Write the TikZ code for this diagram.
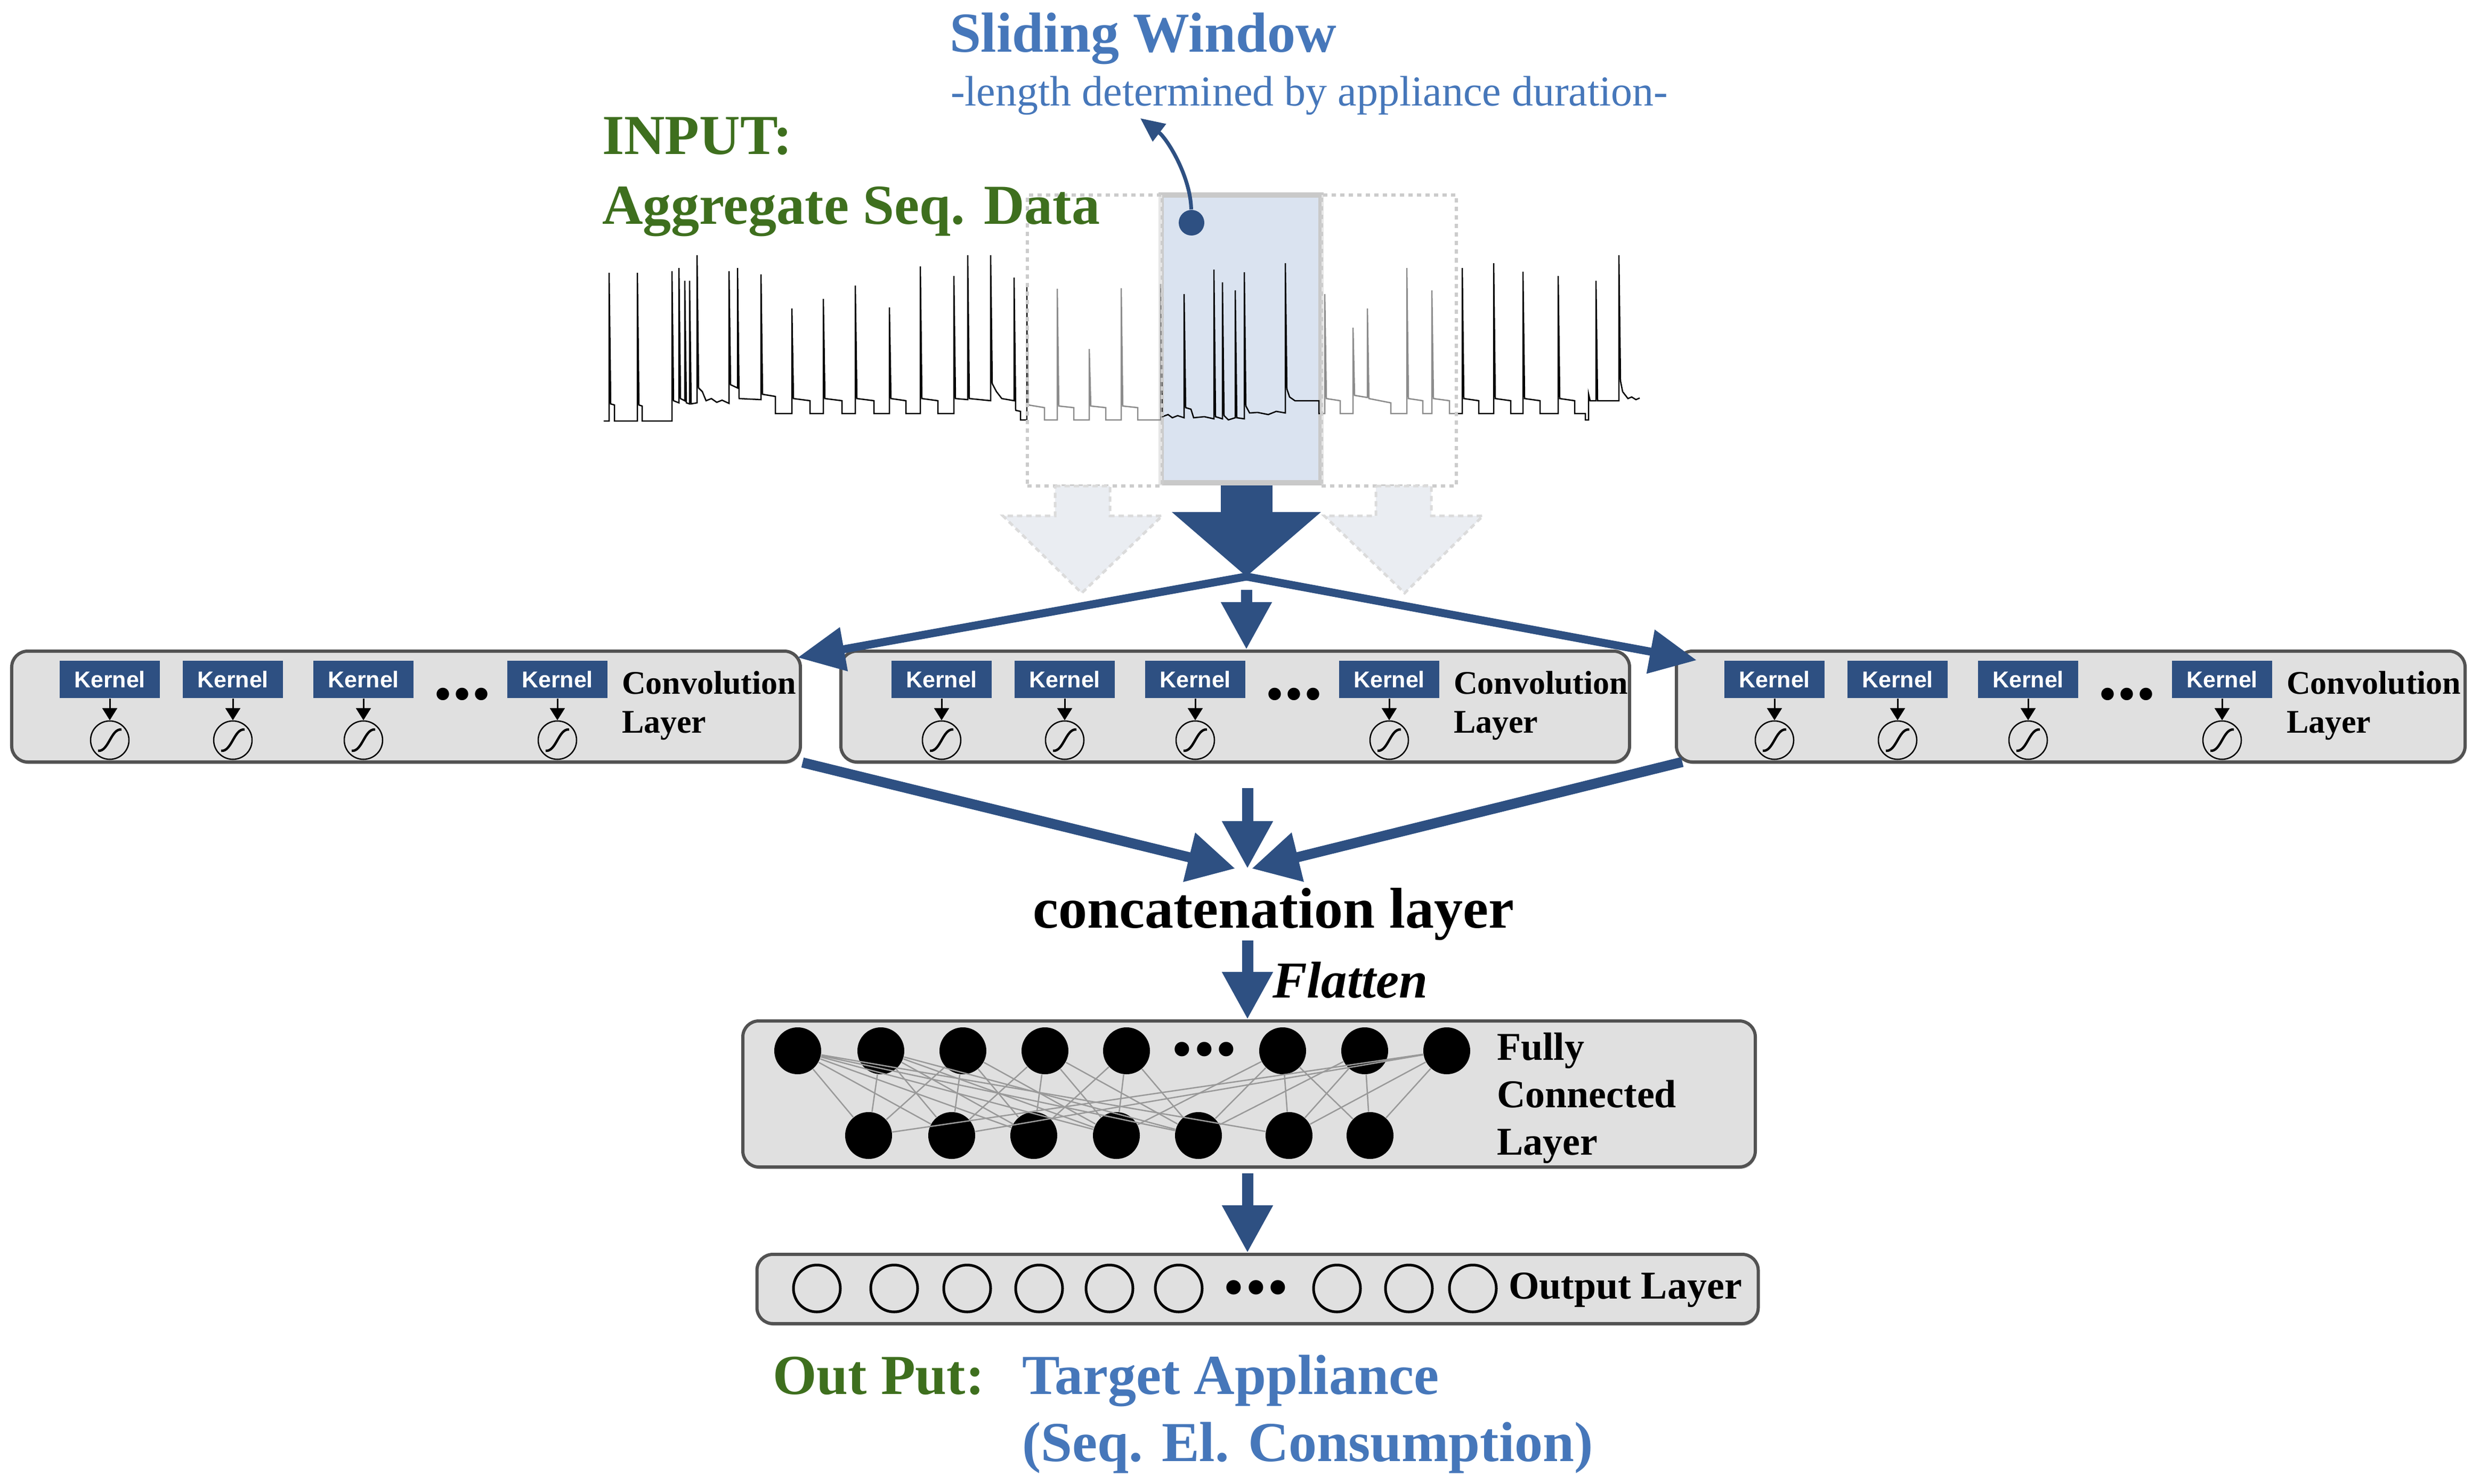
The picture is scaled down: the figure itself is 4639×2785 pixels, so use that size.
\documentclass[tikz,border=0pt]{standalone}
\usepackage{fontspec}
\setmainfont{Liberation Serif}
\newfontfamily\kernelfont{Liberation Sans}
\usetikzlibrary{arrows.meta,shadows}
\definecolor{nnblue}{HTML}{2E5082}
\definecolor{txtblue}{HTML}{4677BA}
\definecolor{txtgreen}{HTML}{3E6F1E}
\definecolor{layergray}{HTML}{E0E0E0}
\definecolor{winblue}{HTML}{DAE3F0}

\begin{document}
\begin{tikzpicture}
    [x=0.2pt,y=-0.2pt,every node/.style={inner sep=0pt},
     bigtext/.style={anchor=base west,font=\bfseries\fontsize{21.2}{25}\selectfont},
     convlbl/.style={anchor=base west,font=\bfseries\fontsize{12.4}{15}\selectfont},
     fclbl/.style={anchor=base west,font=\bfseries\fontsize{14.8}{18}\selectfont},
     smalldots/.style={anchor=base,font=\bfseries\fontsize{28.8}{34}\selectfont},
     bigdots/.style={anchor=base,font=\bfseries\fontsize{33.4}{40}\selectfont},
     layerbox/.style={draw=black!68,line width=1.2pt,fill=layergray,rounded corners=6pt,
       drop shadow={shadow xshift=0.3pt,shadow yshift=-0.8pt,opacity=0.45}},
     kernelbox/.style={fill=nnblue,text=white,minimum width=37.6pt,minimum height=14pt,
       font=\kernelfont\bfseries\fontsize{8.6}{10}\selectfont},
     sigunit/.style={circle,draw,line width=0.5pt,minimum size=14.4pt,
       path picture={\draw[line width=0.9pt]
         ([shift={(-22,20)}]path picture bounding box.center)
         .. controls ([shift={(-2,22)}]path picture bounding box.center)
         and ([shift={(2,-22)}]path picture bounding box.center)
         .. ([shift={(22,-20)}]path picture bounding box.center);}},
     kernelarrow/.style={line width=0.6pt,-{Triangle[length=4.6pt,width=5.6pt]}},
     fcunit/.style={circle,fill=black,minimum size=17.6pt},
     outunit/.style={circle,draw,line width=1pt,minimum size=17.6pt},
     fcedge/.style={draw=black!40,line width=0.5pt},
     ghostwin/.style={draw=black!20,line width=1.2pt,dash pattern=on 1.6pt off 1.6pt,
       fill=white,fill opacity=0.55,minimum width=50.6pt,minimum height=109pt},
     ghostarrow/.style={draw=black!14,line width=1pt,dash pattern=on 2pt off 1.5pt,fill=nnblue!10},
     bigarrow/.style={nnblue,line width=19.4pt,-{Triangle[length=24.2pt,width=54.6pt]}},
     splitarrow/.style={nnblue,line width=3pt,-{Triangle[length=17.6pt,width=16pt]}},
     mergearrow/.style={nnblue,line width=3.8pt,-{Triangle[length=17.8pt,width=18pt]}},
     thinarrow/.style={nnblue,line width=4.2pt,-{Triangle[length=17.8pt,width=18pt]}}]
    \useasboundingbox (0,0) rectangle (4639,2785);

    % input and sliding window
    \node[draw=black!21,line width=2pt,fill=winblue,minimum width=60pt,minimum height=107.8pt] (win) at (2329,636) {};
    \draw[line width=0.5pt] (1133,790) -- (1143,790) -- (1143,512) -- (1146,758) -- (1153,760) -- (1153,790)
      -- (1196,790) -- (1196,512) -- (1199,760) -- (1205,762) -- (1205,790)
      -- (1261,790) -- (1261,509) -- (1264,752) -- (1274,756) -- (1274,503) -- (1277,748) -- (1285,752)
      -- (1285,527) -- (1288,756) -- (1294,758) -- (1294,527) -- (1297,758) -- (1308,756) -- (1308,479)
      -- (1311,728) -- (1318,735) -- (1325,752) -- (1335,748) -- (1345,755) -- (1355,751) -- (1368,757)
      -- (1368,509) -- (1371,722) -- (1384,728) -- (1384,503) -- (1387,748) -- (1428,750)
      -- (1428,515) -- (1431,740) -- (1455,744) -- (1455,776)
      -- (1486,776) -- (1486,579) -- (1489,748) -- (1520,752) -- (1520,776)
      -- (1545,776) -- (1545,561) -- (1548,748) -- (1580,752) -- (1580,776)
      -- (1605,776) -- (1605,536) -- (1608,748) -- (1640,752) -- (1640,776)
      -- (1669,776) -- (1669,577) -- (1672,748) -- (1700,752) -- (1700,776)
      -- (1727,776) -- (1727,500) -- (1730,748) -- (1760,752) -- (1760,776)
      -- (1790,776) -- (1790,518) -- (1793,748) -- (1816,750) -- (1816,479) -- (1819,748) -- (1859,752)
      -- (1859,479) -- (1862,720) -- (1870,735) -- (1880,748) -- (1903,752)
      -- (1903,521) -- (1906,770) -- (1915,772) -- (1915,788) -- (1927,788) -- (1927,533) -- (1930,760)
      -- (1960,765) -- (1960,788)
      -- (1984,788) -- (1984,542) -- (1987,762) -- (2015,765) -- (2015,788)
      -- (2044,788) -- (2044,655) -- (2047,762) -- (2075,765) -- (2075,788)
      -- (2104,788) -- (2104,541) -- (2107,762) -- (2135,765) -- (2135,788)
      -- (2178,788) -- (2178,533) -- (2181,782) -- (2192,778) -- (2200,784) -- (2210,780) -- (2222,784)
      -- (2222,552) -- (2225,765) -- (2235,768) -- (2240,784) -- (2260,782) -- (2278,786)
      -- (2278,506) -- (2281,782) -- (2294,786) -- (2294,530) -- (2297,780) -- (2305,788) -- (2318,784)
      -- (2318,545) -- (2321,784) -- (2335,786) -- (2335,511) -- (2338,762) -- (2345,775) -- (2360,774)
      -- (2380,778) -- (2395,772) -- (2412,775)
      -- (2412,494) -- (2415,730) -- (2420,745) -- (2430,752) -- (2475,752) -- (2475,776)
      -- (2486,776) -- (2486,552) -- (2489,748) -- (2515,752) -- (2515,776)
      -- (2539,776) -- (2539,615) -- (2542,742) -- (2566,746) -- (2566,579) -- (2569,748) -- (2610,756) -- (2610,776)
      -- (2640,776) -- (2640,503) -- (2643,748) -- (2670,752) -- (2670,776)
      -- (2687,776) -- (2687,545) -- (2690,748) -- (2720,752) -- (2720,776)
      -- (2744,776) -- (2744,503) -- (2747,748) -- (2775,752) -- (2775,776)
      -- (2803,776) -- (2803,494) -- (2806,748) -- (2835,752) -- (2835,776)
      -- (2858,776) -- (2858,510) -- (2861,748) -- (2890,752) -- (2890,776)
      -- (2924,776) -- (2924,518) -- (2927,748) -- (2955,752) -- (2955,776)
      -- (2975,776) -- (2975,788) -- (2981,788) -- (2981,739) -- (2984,752) -- (2995,752)
      -- (2995,527) -- (2998,752) -- (3038,752) -- (3038,479) -- (3041,715) -- (3045,735)
      -- (3055,748) -- (3062,745) -- (3070,750) -- (3077,747);
    \node[ghostwin] (winl) at (2054,639) {};
    \node[ghostwin] (winr) at (2606,639) {};
    \node[bigtext,txtblue] (swtitle) at (1781,98) {Sliding Window};
    \node[anchor=base west,txtblue,font=\fontsize{16}{19}\selectfont] (swsub) at (1783,199) {-length determined by appliance duration-};
    \node[bigtext,txtgreen] (intitle) at (1129,290) {INPUT:};
    \node[bigtext,txtgreen] (insub) at (1129,421) {Aggregate Seq. Data};
    \node[circle,fill=nnblue,minimum size=9.6pt] (swdot) at (2236,418) {};
    \coordinate (swtip) at (2140,222);
    \draw[nnblue,line width=1.4pt,-{Triangle[length=9pt,width=8pt]}] (swdot) .. controls (2234,330) and (2190,260) .. (swtip);

    % arrows down to the convolution layers
    \draw[ghostarrow] (1980,912) -- (2083,912) -- (2083,968) -- (2181,968) -- (2030,1113) -- (1882,968) -- (1980,968) -- cycle;
    \draw[ghostarrow] (2582,912) -- (2686,912) -- (2686,968) -- (2783,968) -- (2636,1113) -- (2485,968) -- (2582,968) -- cycle;
    \coordinate (split) at (2339,1082);
    \draw[bigarrow] (win.south -| split) -- (split);

    % convolution layers
    \node[layerbox,minimum width=296pt,minimum height=41.6pt] (conv1) at (762,1326) {};
    \node[layerbox,minimum width=296pt,minimum height=41.6pt] (conv2) at (2318,1326) {};
    \node[layerbox,minimum width=296pt,minimum height=41.6pt] (conv3) at (3886,1326) {};
    \node[kernelbox] (k11) at (206,1275) {Kernel};
    \node[kernelbox] (k12) at (437,1275) {Kernel};
    \node[kernelbox] (k13) at (682,1275) {Kernel};
    \node[kernelbox] (k14) at (1046,1275) {Kernel};
    \node[kernelbox] (k21) at (1767,1275) {Kernel};
    \node[kernelbox] (k22) at (1998,1275) {Kernel};
    \node[kernelbox] (k23) at (2243,1275) {Kernel};
    \node[kernelbox] (k24) at (2607,1275) {Kernel};
    \node[kernelbox] (k31) at (3330,1275) {Kernel};
    \node[kernelbox] (k32) at (3561,1275) {Kernel};
    \node[kernelbox] (k33) at (3806,1275) {Kernel};
    \node[kernelbox] (k34) at (4170,1275) {Kernel};
    \node[sigunit] (s11) at (206,1389) {};
    \node[sigunit] (s12) at (437,1389) {};
    \node[sigunit] (s13) at (682,1389) {};
    \node[sigunit] (s14) at (1046,1389) {};
    \node[sigunit] (s21) at (1767,1389) {};
    \node[sigunit] (s22) at (1998,1389) {};
    \node[sigunit] (s23) at (2243,1389) {};
    \node[sigunit] (s24) at (2607,1389) {};
    \node[sigunit] (s31) at (3330,1389) {};
    \node[sigunit] (s32) at (3561,1389) {};
    \node[sigunit] (s33) at (3806,1389) {};
    \node[sigunit] (s34) at (4170,1389) {};
    \draw[kernelarrow] (k11) -- (s11);
    \draw[kernelarrow] (k12) -- (s12);
    \draw[kernelarrow] (k13) -- (s13);
    \draw[kernelarrow] (k14) -- (s14);
    \draw[kernelarrow] (k21) -- (s21);
    \draw[kernelarrow] (k22) -- (s22);
    \draw[kernelarrow] (k23) -- (s23);
    \draw[kernelarrow] (k24) -- (s24);
    \draw[kernelarrow] (k31) -- (s31);
    \draw[kernelarrow] (k32) -- (s32);
    \draw[kernelarrow] (k33) -- (s33);
    \draw[kernelarrow] (k34) -- (s34);
    \node[smalldots] (dots1) at (867,1312) {...};
    \node[smalldots] (dots2) at (2428,1312) {...};
    \node[smalldots] (dots3) at (3991,1312) {...};
    \node[convlbl] (conv1a) at (1166,1302) {Convolution};
    \node[convlbl] (conv1b) at (1166,1375) {Layer};
    \node[convlbl] (conv2a) at (2727,1302) {Convolution};
    \node[convlbl] (conv2b) at (2727,1375) {Layer};
    \node[convlbl] (conv3a) at (4290,1302) {Convolution};
    \node[convlbl] (conv3b) at (4290,1375) {Layer};
    \draw[splitarrow] (split) -- ([shift={(-8,15)}]conv1.north east);
    \draw[splitarrow] (split) -- ([shift={(41,20)}]conv3.north west);
    \draw[thinarrow] ([yshift=-5pt]split) -- (split |- conv2.north);

    % concatenation
    \coordinate (mrgl) at (2318,1630);
    \coordinate (mrgr) at (2349,1630);
    \coordinate (mrgtop) at (2341,1479);
    \coordinate (mrgtip) at (2341,1630);
    \draw[mergearrow] ([shift={(1,-2)}]conv1.south east) -- (mrgl);
    \draw[mergearrow] ([shift={(14,-3)}]conv3.south west) -- (mrgr);
    \draw[thinarrow] (mrgtop) -- (mrgtip);
    \node[anchor=base,font=\bfseries\fontsize{21.6}{26}\selectfont] (concat) at (2390,1741) {concatenation layer};
    \node[anchor=base west,font=\bfseries\itshape\fontsize{19.4}{23}\selectfont] (flatten) at (2387,1872) {Flatten};

    % fully connected layer
    \node[layerbox,minimum width=380pt,minimum height=54.8pt] (fc) at (2344,2053) {};
    \draw[thinarrow] (concat.south -| mrgtip) -- (mrgtip |- fc.north);
    \node[fcunit] (t1) at (1497,1972) {};
    \node[fcunit] (t2) at (1653,1972) {};
    \node[fcunit] (t3) at (1807,1972) {};
    \node[fcunit] (t4) at (1961,1972) {};
    \node[fcunit] (t5) at (2114,1972) {};
    \node[fcunit] (t6) at (2407,1972) {};
    \node[fcunit] (t7) at (2561,1972) {};
    \node[fcunit] (t8) at (2715,1972) {};
    \node[fcunit] (b1) at (1630,2131) {};
    \node[fcunit] (b2) at (1786,2131) {};
    \node[fcunit] (b3) at (1940,2131) {};
    \node[fcunit] (b4) at (2095,2131) {};
    \node[fcunit] (b5) at (2249,2131) {};
    \node[fcunit] (b6) at (2419,2131) {};
    \node[fcunit] (b7) at (2571,2131) {};
    \node[bigdots] (fcdots) at (2260,1980) {...};
    \draw[fcedge] (t1) -- (b1) (t1) -- (b2) (t1) -- (b3) (t1) -- (b4) (t1) -- (b5) (t1) -- (b6);
    \draw[fcedge] (t2) -- (b1) (t2) -- (b2) (t2) -- (b3) (t2) -- (b4) (t2) -- (b5);
    \draw[fcedge] (t3) -- (b1) (t3) -- (b2) (t3) -- (b3) (t3) -- (b4);
    \draw[fcedge] (t4) -- (b2) (t4) -- (b3) (t4) -- (b4) (t4) -- (b5);
    \draw[fcedge] (t5) -- (b3) (t5) -- (b4) (t5) -- (b5);
    \draw[fcedge] (t6) -- (b4) (t6) -- (b5) (t6) -- (b6) (t6) -- (b7);
    \draw[fcedge] (t7) -- (b5) (t7) -- (b6) (t7) -- (b7);
    \draw[fcedge] (t8) -- (b1) (t8) -- (b2) (t8) -- (b6) (t8) -- (b7);
    \node[fclbl] (fc1) at (2808,1989) {Fully};
    \node[fclbl] (fc2) at (2808,2078) {Connected};
    \node[fclbl] (fc3) at (2808,2167) {Layer};

    % output layer
    \node[layerbox,minimum width=375.8pt,minimum height=26pt] (out) at (2360,2419) {};
    \draw[thinarrow] ([yshift=-1.8pt]fc.south -| mrgtip) -- (mrgtip |- out.north);
    \node[outunit] (o1) at (1533,2418) {};
    \node[outunit] (o2) at (1678,2418) {};
    \node[outunit] (o3) at (1815,2418) {};
    \node[outunit] (o4) at (1950,2418) {};
    \node[outunit] (o5) at (2082,2418) {};
    \node[outunit] (o6) at (2212,2418) {};
    \node[outunit] (o7) at (2509,2418) {};
    \node[outunit] (o8) at (2644,2418) {};
    \node[outunit] (o9) at (2764,2418) {};
    \node[bigdots] (outdots) at (2357,2427) {...};
    \node[fclbl] (outlbl) at (2830,2437) {Output Layer};
    \node[bigtext,txtgreen] (outtitle) at (1449,2616) {Out Put:};
    \node[bigtext,txtblue] (target) at (1917,2616) {Target Appliance};
    \node[bigtext,txtblue] (target2) at (1917,2742) {(Seq. El. Consumption)};
  \end{tikzpicture}
\end{document}
